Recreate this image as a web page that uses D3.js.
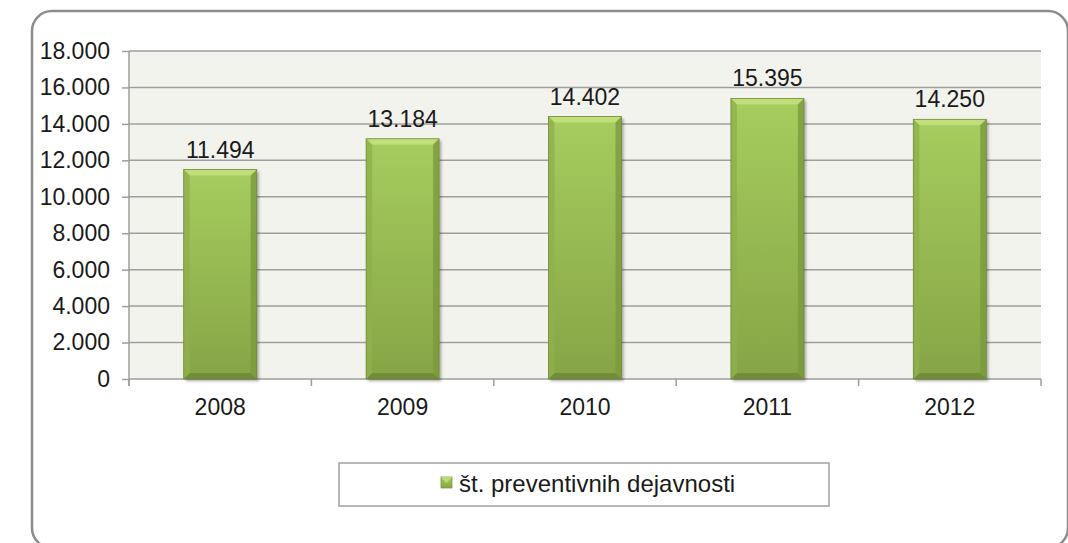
<!DOCTYPE html>
<html><head><meta charset="utf-8">
<script src="https://cdn.jsdelivr.net/npm/d3@7"></script>
<style>html,body{margin:0;padding:0;background:#fff;}svg{display:block;font-family:"Liberation Sans",Arial,sans-serif;}</style>
</head><body>
<script>
const categories = ["2008","2009","2010","2011","2012"];
const values = [11494, 13184, 14402, 15395, 14250];
const valueLabels = ["11.494","13.184","14.402","15.395","14.250"];
const yTicks = [0,2000,4000,6000,8000,10000,12000,14000,16000,18000];
const yTickLabels = ["0","2.000","4.000","6.000","8.000","10.000","12.000","14.000","16.000","18.000"];
const seriesName = "št. preventivnih dejavnosti";

(function(){
const W=1068,H=543;
const svg=d3.select("body").append("svg").attr("width",W).attr("height",H);
const defs=svg.append("defs");
const g1=defs.append("linearGradient").attr("id","barg").attr("x1",0).attr("y1",0).attr("x2",0).attr("y2",1);
g1.append("stop").attr("offset","0%").attr("stop-color","#a6cd5e");
g1.append("stop").attr("offset","100%").attr("stop-color","#86a446");
const f=defs.append("filter").attr("id","sh").attr("x","-20%").attr("y","-20%").attr("width","140%").attr("height","140%");
f.append("feGaussianBlur").attr("in","SourceAlpha").attr("stdDeviation",1.5);
f.append("feOffset").attr("dx",2).attr("dy",2).attr("result","b");
f.append("feComponentTransfer").append("feFuncA").attr("type","linear").attr("slope",0.35);
const fm=f.append("feMerge");fm.append("feMergeNode");fm.append("feMergeNode").attr("in","SourceGraphic");

// outer frame
svg.append("rect").attr("x",32).attr("y",11).attr("width",1036).attr("height",537).attr("rx",20)
  .attr("fill","#fff").attr("stroke","#8c8c8c").attr("stroke-width",2.5);

const pL=129,pR=1041,pT=51,pB=379;
const x=d3.scaleBand().domain(categories).range([pL,pR]).paddingInner(0).paddingOuter(0);
const y=d3.scaleLinear().domain([0,18000]).range([pB,pT]);

svg.append("rect").attr("x",pL).attr("y",pT).attr("width",pR-pL).attr("height",pB-pT).attr("fill","#f3f3ee");

// gridlines
svg.append("g").selectAll("line").data(yTicks.filter(d=>d>0)).join("line")
  .attr("x1",pL).attr("x2",pR).attr("y1",d=>y(d)).attr("y2",d=>y(d))
  .attr("stroke","#9e9e9e").attr("stroke-width",1.5);

// y axis
const yAxis=d3.axisLeft(y).tickValues(yTicks).tickFormat((d,i)=>yTickLabels[i]).tickSize(7).tickPadding(12);
const ya=svg.append("g").attr("transform",`translate(${pL},0)`).call(yAxis);
ya.select(".domain").remove();
ya.selectAll(".tick line").attr("stroke","#9e9e9e").attr("stroke-width",1.5);
ya.selectAll("text").attr("font-size",23).attr("fill","#1a1a1a").attr("font-family","Liberation Sans, Arial, sans-serif");
svg.append("line").attr("x1",pL).attr("x2",pL).attr("y1",pT).attr("y2",pB+7).attr("stroke","#9e9e9e").attr("stroke-width",1.5);

// x axis
const xa=svg.append("g").attr("transform",`translate(0,${pB})`).call(d3.axisBottom(x).tickSize(0).tickPadding(20));
xa.select(".domain").remove();
xa.selectAll("text").attr("font-size",23).attr("fill","#1a1a1a").attr("font-family","Liberation Sans, Arial, sans-serif");
svg.append("line").attr("x1",pL).attr("x2",pR).attr("y1",pB).attr("y2",pB).attr("stroke","#9e9e9e").attr("stroke-width",1.5);
const bounds=categories.map(c=>x(c)).concat([x(categories[categories.length-1])+x.bandwidth()]);
svg.append("g").selectAll("line").data(bounds).join("line")
  .attr("x1",d=>d).attr("x2",d=>d).attr("y1",pB).attr("y2",pB+7).attr("stroke","#9e9e9e").attr("stroke-width",1.5);

// bars
const bw=x.bandwidth()*0.4;
const bars=svg.append("g").selectAll("g").data(categories).join("g");
bars.each(function(c,i){
  const gg=d3.select(this);
  const x0=x(c)+x.bandwidth()/2-bw/2, x1=x0+bw, y0=y(values[i]), y1=y(0), b=6;
  gg.append("rect").attr("x",x0).attr("y",y0).attr("width",bw).attr("height",y1-y0).attr("fill","url(#barg)").attr("filter","url(#sh)");
  gg.append("path").attr("d",`M${x0},${y0}L${x1},${y0}L${x1-b},${y0+b}L${x0+b},${y0+b}Z`).attr("fill","#c4e27f").attr("opacity",0.85);
  gg.append("path").attr("d",`M${x0},${y1}L${x1},${y1}L${x1-b},${y1-b}L${x0+b},${y1-b}Z`).attr("fill","#6c8733").attr("opacity",0.8);
  gg.append("path").attr("d",`M${x0},${y0}L${x0+b},${y0+b}L${x0+b},${y1-b}L${x0},${y1}Z`).attr("fill","#8fb04c").attr("opacity",0.8);
  gg.append("path").attr("d",`M${x1},${y0}L${x1-b},${y0+b}L${x1-b},${y1-b}L${x1},${y1}Z`).attr("fill","#7a9a3c").attr("opacity",0.8);
  gg.append("rect").attr("x",x0).attr("y",y0).attr("width",bw).attr("height",y1-y0).attr("fill","none").attr("stroke","#6f8b38").attr("stroke-width",0.8);
  gg.append("text").attr("x",x0+bw/2).attr("y",y0-12).attr("text-anchor","middle").attr("font-size",23).attr("fill","#1a1a1a").text(valueLabels[i]);
});

// legend
svg.append("rect").attr("x",339).attr("y",463).attr("width",490).attr("height",43).attr("fill","#fff").attr("stroke","#a0a0a0").attr("stroke-width",1.5);
const lg=svg.append("g");
lg.append("rect").attr("x",441).attr("y",477).attr("width",11).attr("height",11).attr("fill","url(#barg)").attr("stroke","#7a9a3c").attr("stroke-width",0.8);
lg.append("path").attr("d","M441,477L452,477L446.5,483Z").attr("fill","#c4e27f").attr("opacity",0.8);
lg.append("text").attr("x",459).attr("y",492).attr("font-size",24).attr("fill","#1a1a1a").text(seriesName);
})();
</script>
</body></html>
